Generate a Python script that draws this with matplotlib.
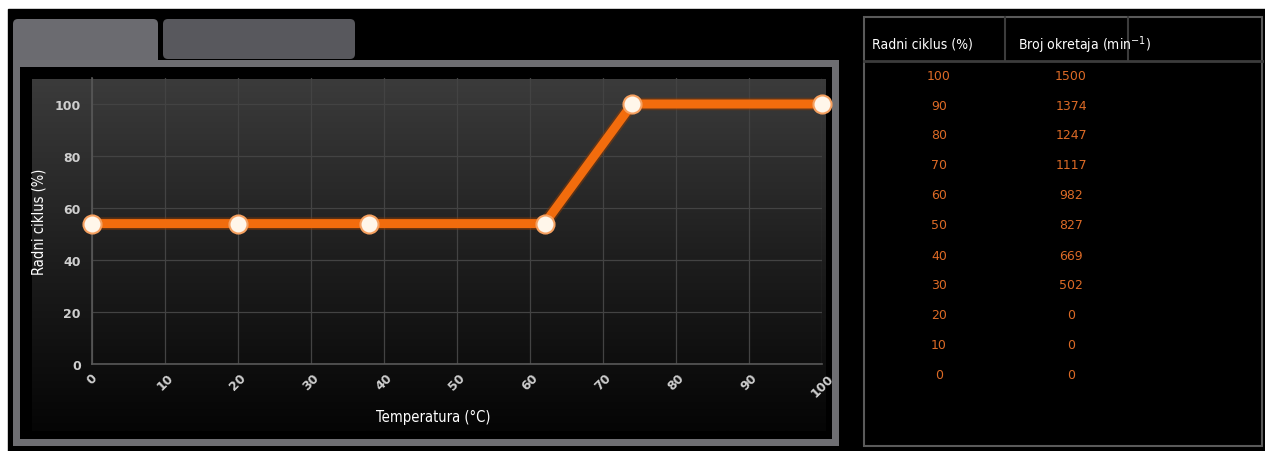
import numpy as np
import matplotlib
matplotlib.use("Agg")
import matplotlib.pyplot as plt
from matplotlib.patches import Rectangle, FancyBboxPatch
from matplotlib.colors import LinearSegmentedColormap

# ---- data ----
temps = [0, 20, 38, 62, 74, 100]
duty = [54, 54, 54, 54, 100, 100]
x_ticks = [0, 10, 20, 30, 40, 50, 60, 70, 80, 90, 100]
y_ticks = [0, 20, 40, 60, 80, 100]
table_duty = [100, 90, 80, 70, 60, 50, 40, 30, 20, 10, 0]
table_rpm = [1500, 1374, 1247, 1117, 982, 827, 669, 502, 0, 0, 0]
header_1 = "Radni ciklus (%)"
header_2 = "Broj okretaja (min$^{-1}$)"
x_label = "Temperatura (°C)"
y_label = "Radni ciklus (%)"

W, H = 1265, 452
fig = plt.figure(figsize=(W / 100, H / 100), dpi=100)
fig.patch.set_facecolor("white")
plt.rcParams['font.family'] = ['DejaVu Sans']

def fx(px):
    return px / W

def fy(py):
    return 1 - py / H

# background layer axes in pixel coordinates
bg = fig.add_axes([0, 0, 1, 1])
bg.set_xlim(0, W)
bg.set_ylim(H, 0)
bg.axis("off")
bg.set_zorder(0)

bg.add_patch(Rectangle((8, 10), W - 8, H - 10, color="black", zorder=0))
# tabs
bg.add_patch(FancyBboxPatch((13, 20), 145, 50, boxstyle="round,pad=0,rounding_size=5",
                            fc="#6b6b70", ec="none", zorder=1))
bg.add_patch(FancyBboxPatch((163, 20), 192, 40, boxstyle="round,pad=0,rounding_size=5",
                            fc="#58585d", ec="none", zorder=1))
# frame
bg.add_patch(Rectangle((13, 61), 826, 386, fc="#6e6e72", ec="none", zorder=1))
bg.add_patch(Rectangle((20, 68), 812, 372, fc="black", ec="none", zorder=2))
# gradient plot background
grad = np.linspace(0, 1, 256).reshape(-1, 1)
cmap = LinearSegmentedColormap.from_list("g", ["#3b3b3b", "#1e1e1e", "#050505"])
bg.imshow(grad, cmap=cmap, extent=(32, 826, 432, 80), aspect="auto", zorder=3)

# table panel
bg.add_patch(Rectangle((864, 18), 398, 429, fc="black", ec="#5a5a5a", lw=1.5, zorder=1))
bg.plot([864, 1262], [62, 62], color="#3c3c3c", lw=2, zorder=2)
bg.plot([1005, 1005], [18, 62], color="#3c3c3c", lw=1.5, zorder=2)
bg.plot([1128, 1128], [18, 62], color="#3c3c3c", lw=1.5, zorder=2)
bg.text(872, 45, header_1, color="white", fontsize=10, ha="left", va="center",
        fontstretch="condensed", zorder=3)
bg.text(1018, 45, header_2, color="white", fontsize=10, ha="left", va="center",
        fontstretch="condensed", zorder=3)
for i, (d, r) in enumerate(zip(table_duty, table_rpm)):
    yy = 76 + 30 * i
    bg.text(939, yy, str(d), color="#dc6a26", fontsize=9, ha="center", va="center",
            zorder=3)
    bg.text(1071, yy, str(r), color="#dc6a26", fontsize=9, ha="center", va="center",
            zorder=3)

# ---- chart axes ----
ax = fig.add_axes([fx(92), fy(365), fx(822) - fx(92), fy(79) - fy(365)])
ax.set_zorder(2)
ax.patch.set_alpha(0)
ax.set_xlim(0, 100)
ax.set_ylim(0, 110)
ax.set_xticks(x_ticks)
ax.set_yticks(y_ticks)
ax.set_xticklabels([str(t) for t in x_ticks], rotation=45, ha="center", va="top",
                   color="#cfcfcf", fontsize=9, fontweight="bold")
ax.set_yticklabels([str(t) for t in y_ticks], color="#cfcfcf", fontsize=9, fontweight="bold")
ax.tick_params(length=0, pad=8)
ax.tick_params(axis="x", pad=5)
ax.grid(True, color="#434343", lw=0.9)
ax.set_axisbelow(True)
for s in ["top", "right"]:
    ax.spines[s].set_visible(False)
for s in ["left", "bottom"]:
    ax.spines[s].set_color("#585858")
    ax.spines[s].set_linewidth(1.2)

ax.plot(temps, duty, color="#8a3a05", lw=9, solid_capstyle="round", alpha=0.5, clip_on=False)
ax.plot(temps, duty, color="#f26c0d", lw=6.5, solid_capstyle="round", clip_on=False)
ax.plot(temps, duty, ls="none", marker="o", ms=13, mfc="#fff6ea", mec="#f5a060", mew=1.5,
        clip_on=False, zorder=5)

ax.set_xlabel(x_label, color="white", fontsize=10.5, fontstretch="condensed")
ax.set_ylabel(y_label, color="white", fontsize=10.5, fontstretch="condensed")
ax.xaxis.set_label_coords((433 - 92) / 730, -(410 - 365) / 286)
ax.yaxis.set_label_coords((46 - 92) / 730, (365 - 222) / 286)

fig.savefig("out.png", dpi=100, facecolor=fig.get_facecolor())
